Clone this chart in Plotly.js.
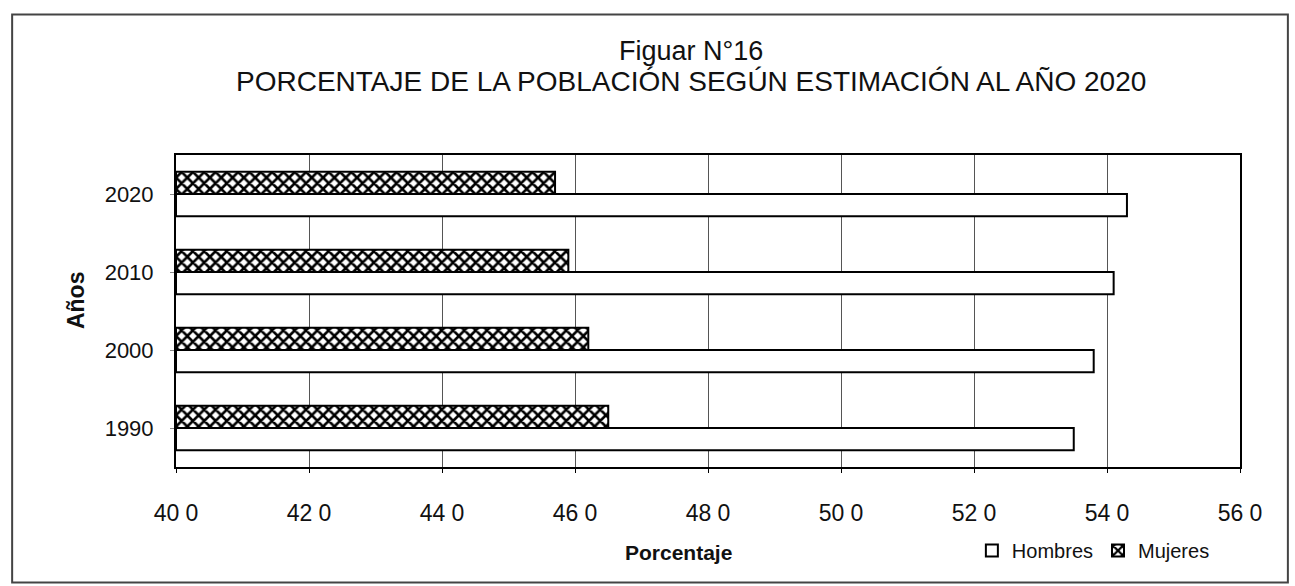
<!DOCTYPE html>
<html>
<head>
<meta charset="utf-8">
<script src="https://cdn.plot.ly/plotly-3.0.1.min.js"></script>
<style>html,body{margin:0;padding:0;background:#fff;}#chart{width:1295px;height:586px;}</style>
</head>
<body>
<div id="chart"></div>
<script>
const years = ['1990', '2000', '2010', '2020'];
const hombres = [53.5, 53.8, 54.1, 54.3];
const mujeres = [46.5, 46.2, 45.9, 45.7];
const tickVals = [40, 42, 44, 46, 48, 50, 52, 54, 56];
const tickText = ['40 0', '42 0', '44 0', '46 0', '48 0', '50 0', '52 0', '54 0', '56 0'];

const font = 'Liberation Sans, Arial, sans-serif';

const traces = [
  {
    type: 'bar', orientation: 'h', name: 'Hombres',
    y: years, x: hombres.map(v => v - 40), base: 40,
    marker: {color: '#ffffff', line: {color: '#000', width: 2}},
    hoverinfo: 'skip'
  },
  {
    type: 'bar', orientation: 'h', name: 'Mujeres',
    y: years, x: mujeres.map(v => v - 40), base: 40,
    marker: {color: '#ffffff', line: {color: '#000', width: 2},
      pattern: {shape: 'x', fgcolor: '#000', bgcolor: '#fff', size: 8, solidity: 0.55}},
    hoverinfo: 'skip'
  }
];

const layout = {
  width: 1295, height: 586,
  margin: {l: 176, r: 55, t: 155, b: 119},
  paper_bgcolor: '#fff', plot_bgcolor: '#fff',
  font: {family: font, color: '#111', size: 18},
  barmode: 'group', bargap: 0.43, bargroupgap: 0,
  showlegend: true,
  legend: {orientation: 'h', x: 0.748, y: -0.268, xanchor: 'left', yanchor: 'middle',
    font: {size: 20, family: font}, traceorder: 'normal', itemwidth: 30},
  xaxis: {
    range: [40, 56], tickvals: tickVals, ticktext: tickText,
    showgrid: true, gridcolor: '#555', gridwidth: 1,
    showline: true, linecolor: '#000', linewidth: 2, mirror: true,
    ticks: 'outside', ticklen: 4, tickcolor: '#000',
    ticklabelstandoff: 20, zeroline: false,
    tickfont: {size: 23, family: font}
  },
  yaxis: {
    type: 'category', categoryorder: 'array', categoryarray: years,
    showgrid: false, showline: true, linecolor: '#000', linewidth: 2, mirror: true,
    ticks: 'outside', ticklen: 4, tickcolor: '#888',
    ticklabelstandoff: 12, tickfont: {size: 22, family: font}
  },
  annotations: [
    {text: 'Figuar N°16', xref: 'paper', yref: 'paper', x: 0.484, y: 1.0, yshift: 104,
      showarrow: false, font: {size: 27}, xanchor: 'center', yanchor: 'middle'},
    {text: 'PORCENTAJE DE LA POBLACIÓN SEGÚN ESTIMACIÓN AL AÑO 2020', xref: 'paper', yref: 'paper',
      x: 0.484, y: 1.0, yshift: 74, showarrow: false, font: {size: 28}, xanchor: 'center', yanchor: 'middle'},
    {text: '<b>Porcentaje</b>', xref: 'paper', yref: 'paper', x: 0.472, y: 0, yshift: -85,
      showarrow: false, font: {size: 21}, xanchor: 'center', yanchor: 'middle'},
    {text: '<b>Años</b>', xref: 'paper', yref: 'paper', x: 0, xshift: -100, y: 0.535,
      showarrow: false, font: {size: 23}, textangle: -90, xanchor: 'center', yanchor: 'middle'}
  ],
  shapes: [
    {type: 'rect', xref: 'paper', yref: 'paper', x0: -0.154, x1: 1.045, y0: -0.37, y1: 1.45,
      line: {color: '#444', width: 2}, fillcolor: 'rgba(0,0,0,0)', layer: 'below'}
  ]
};

Plotly.newPlot('chart', traces, layout, {displayModeBar: false, staticPlot: true});
</script>
</body>
</html>
